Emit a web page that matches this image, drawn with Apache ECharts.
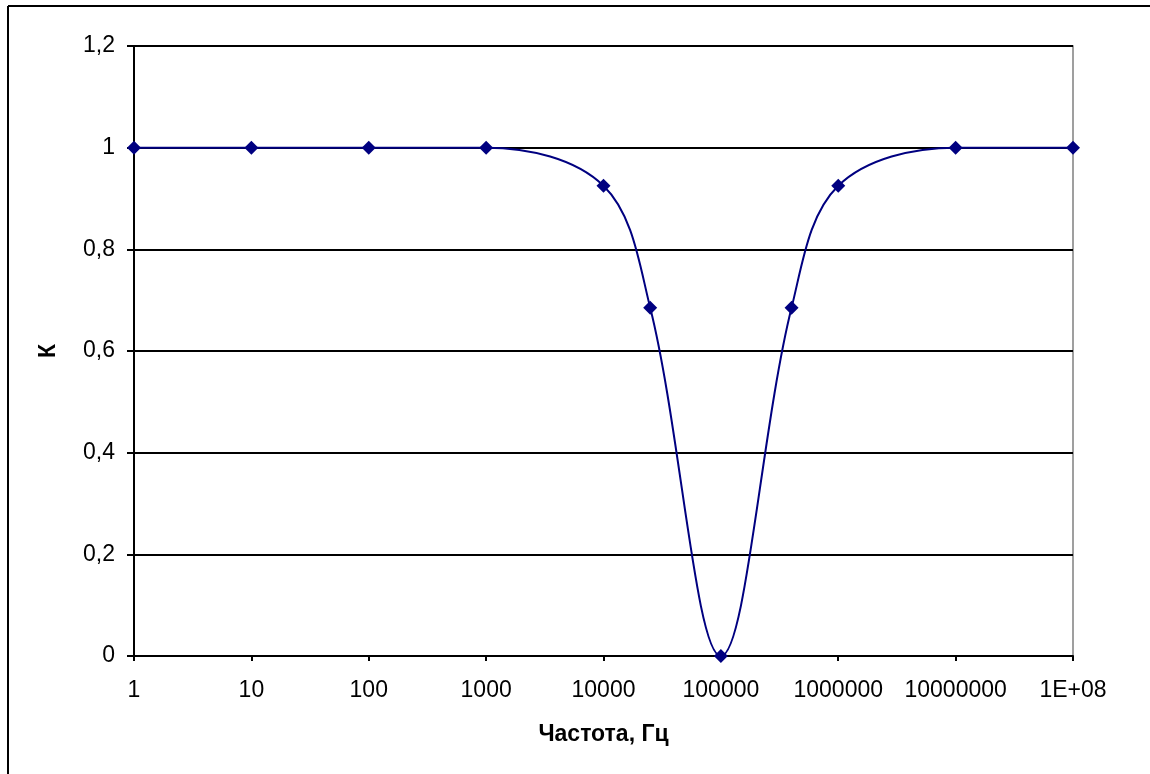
<!DOCTYPE html>
<html>
<head>
<meta charset="utf-8">
<title>K vs frequency</title>
<script src="https://cdn.jsdelivr.net/npm/echarts@6/dist/echarts.min.js"></script>
<style>
  html, body { margin: 0; padding: 0; background: #fff; }
  #chart { width: 1150px; height: 774px; }
</style>
</head>
<body>
<div id="chart"></div>
<script>
// --- data ---
const freq = [1, 10, 100, 1000, 10000, 25000, 100000, 400000, 1000000, 10000000, 100000000];
const kValues = [1, 1, 1, 1, 0.925, 0.685, 0, 0.685, 0.925, 1, 1];
const xTitle = 'Частота, Гц';
const yTitle = 'К';

const points = freq.map((f, i) => [f, kValues[i]]);
const font = 'Liberation Sans, Arial, sans-serif';

const chart = echarts.init(document.getElementById('chart'));
chart.setOption({
  animation: false,
  backgroundColor: '#fff',
  textStyle: { fontFamily: font },
  // chart frame: only the top and left edges are visible in the picture
  graphic: [
    { type: 'line', shape: { x1: 8, y1: 6, x2: 1150, y2: 6 }, style: { stroke: '#000', lineWidth: 2 }, silent: true },
    { type: 'line', shape: { x1: 8, y1: 6, x2: 8, y2: 774 }, style: { stroke: '#000', lineWidth: 2 }, silent: true }
  ],
  grid: {
    left: 134, top: 46, right: 77, bottom: 118,
    show: true, borderColor: '#808080', borderWidth: 1.5
  },
  xAxis: {
    type: 'log',
    logBase: 10,
    min: 1,
    max: 100000000,
    name: xTitle,
    nameLocation: 'middle',
    nameGap: 67,
    nameTextStyle: { fontFamily: font, fontSize: 23, fontWeight: 'bold', color: '#000' },
    axisLine: { lineStyle: { color: '#000', width: 2 } },
    axisTick: { length: 5, lineStyle: { color: '#000', width: 2 } },
    axisLabel: {
      margin: 23, fontFamily: font, fontSize: 23, color: '#000',
      formatter: v => {
        const n = Math.round(v);
        return n >= 100000000 ? '1E+08' : String(n);
      }
    },
    splitLine: { show: false }
  },
  yAxis: {
    type: 'value',
    min: 0,
    max: 1.2,
    interval: 0.2,
    name: yTitle,
    nameLocation: 'middle',
    nameGap: 74,
    nameRotate: 90,
    nameTextStyle: { fontFamily: font, fontSize: 23, fontWeight: 'bold', color: '#000' },
    axisLine: { show: true, lineStyle: { color: '#000', width: 2 } },
    axisTick: { show: true, length: 7, lineStyle: { color: '#000', width: 2 } },
    axisLabel: {
      margin: 19, fontFamily: font, fontSize: 23, color: '#000',
      formatter: v => String(Math.round(v * 10) / 10).replace('.', ',')
    },
    splitLine: { show: true, lineStyle: { color: '#000', width: 2 } }
  },
  series: [{
    type: 'line',
    data: points,
    smooth: 0.35,
    symbol: 'diamond',
    symbolSize: 14,
    showAllSymbol: true,
    itemStyle: { color: '#000080' },
    lineStyle: { color: '#000080', width: 2 }
  }]
});
</script>
</body>
</html>
